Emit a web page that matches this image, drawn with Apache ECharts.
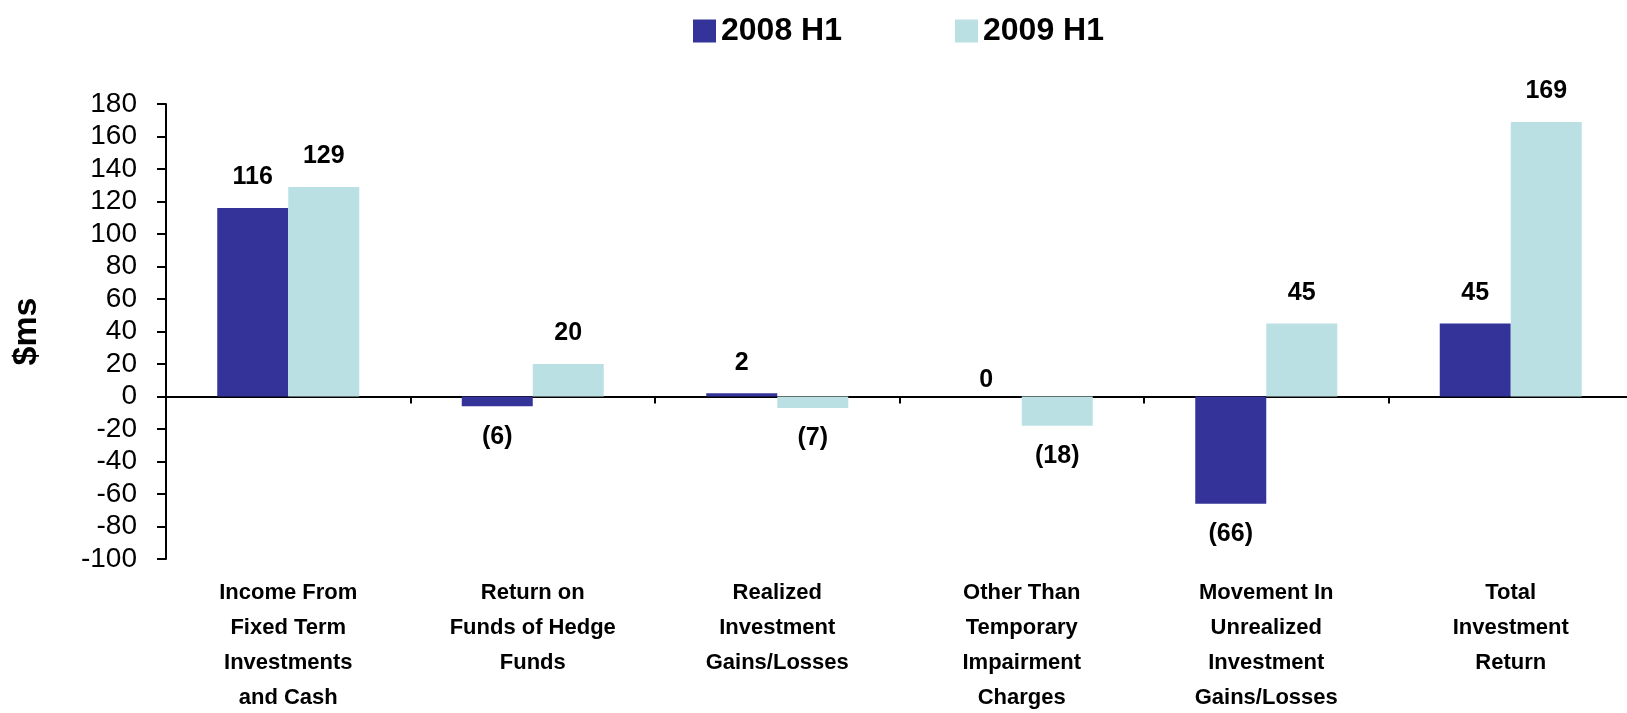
<!DOCTYPE html>
<html>
<head>
<meta charset="utf-8">
<script src="https://cdn.jsdelivr.net/npm/echarts@6/dist/echarts.min.js"></script>
<style>
html,body{margin:0;padding:0;background:#fff;}
#chart{width:1627px;height:713px;}
</style>
</head>
<body>
<div id="chart"></div>
<script>
var categories = [
  "Income From\nFixed Term\nInvestments\nand Cash",
  "Return on\nFunds of Hedge\nFunds",
  "Realized\nInvestment\nGains/Losses",
  "Other Than\nTemporary\nImpairment\nCharges",
  "Movement In\nUnrealized\nInvestment\nGains/Losses",
  "Total\nInvestment\nReturn"
];
var seriesNames = ["2008 H1", "2009 H1"];
var values2008 = [116, -6, 2, 0, -66, 45];
var values2009 = [129, 20, -7, -18, 45, 169];

var FONT = "'Liberation Sans', Arial, sans-serif";
var chart = echarts.init(document.getElementById('chart'), null, {renderer: 'canvas'});

function labelFmt(p) {
  var v = p.value;
  return v < 0 ? '(' + Math.abs(v) + ')' : String(v);
}
function toItems(arr) {
  return arr.map(function (v) {
    if (v === 0) {
      return {value: v, label: {position: 'top', distance: 4}};
    }
    return {value: v, label: {position: v > 0 ? 'top' : 'bottom'}};
  });
}
function makeSeries(name, data, color) {
  return {
    name: name,
    type: 'bar',
    xAxisIndex: 0,
    yAxisIndex: 0,
    data: toItems(data),
    barWidth: 71,
    barGap: '0%',
    itemStyle: {color: color},
    label: {
      show: true,
      distance: 18,
      formatter: labelFmt,
      color: '#000',
      fontFamily: FONT,
      fontWeight: 'bold',
      fontSize: 25
    }
  };
}

chart.setOption({
  animation: false,
  backgroundColor: '#fff',
  legend: {
    data: seriesNames,
    left: 688,
    top: 10,
    icon: 'rect',
    itemWidth: 23,
    itemHeight: 23,
    itemGap: 113,
    textStyle: {fontFamily: FONT, fontWeight: 'bold', fontSize: 32, color: '#000', padding: [0, 0, 0, 0]}
  },
  grid: {left: 166, top: 104, width: 1467, height: 455, containLabel: false, outerBoundsMode: 'none'},
  xAxis: [
    {
      type: 'category',
      data: categories,
      axisLine: {show: true, onZero: true, lineStyle: {color: '#000', width: 2}},
      axisTick: {show: true, length: 7, lineStyle: {color: '#000', width: 2}},
      axisLabel: {show: false},
      splitLine: {show: false}
    },
    {
      type: 'category',
      data: categories,
      position: 'bottom',
      axisLine: {show: false, onZero: false},
      axisTick: {show: false},
      axisLabel: {
        show: true,
        margin: 16,
        interval: 0,
        color: '#000',
        fontFamily: FONT,
        fontWeight: 'bold',
        fontSize: 22,
        lineHeight: 35
      },
      splitLine: {show: false}
    }
  ],
  yAxis: {
    type: 'value',
    min: -100,
    max: 180,
    interval: 20,
    name: '$ms',
    nameLocation: 'middle',
    nameGap: 122,
    nameRotate: 90,
    nameTextStyle: {fontFamily: FONT, fontWeight: 'bold', fontSize: 34, color: '#000'},
    axisLine: {show: true, lineStyle: {color: '#000', width: 2}},
    axisTick: {show: true, length: 9, lineStyle: {color: '#000', width: 2}},
    axisLabel: {margin: 29, color: '#000', fontFamily: FONT, fontSize: 28},
    splitLine: {show: false}
  },
  series: [
    makeSeries(seriesNames[0], values2008, '#333399'),
    makeSeries(seriesNames[1], values2009, '#BBE0E3')
  ]
});
</script>
</body>
</html>
